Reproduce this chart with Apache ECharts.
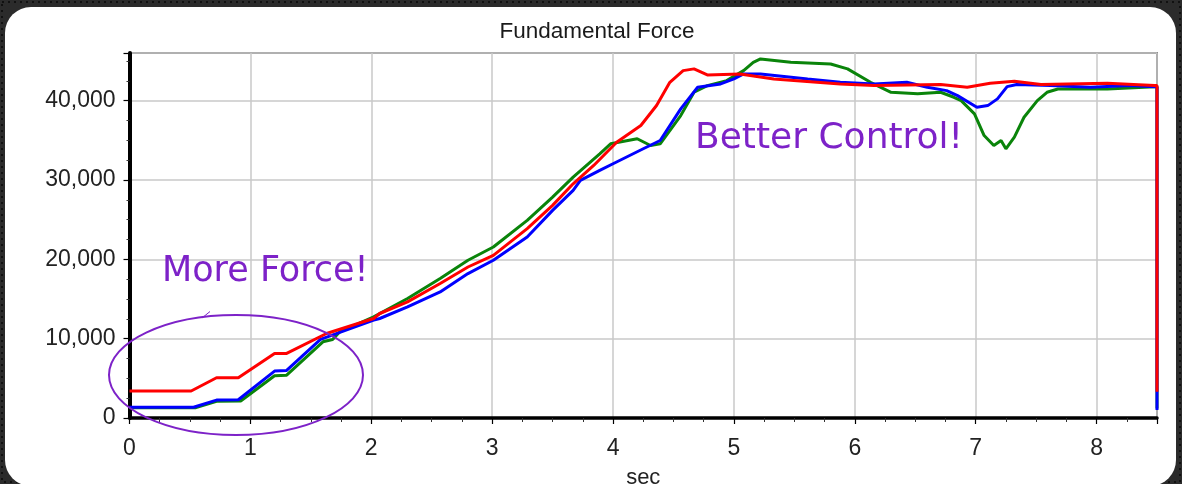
<!DOCTYPE html>
<html>
<head>
<meta charset="utf-8">
<script src="https://cdn.jsdelivr.net/npm/echarts@6/dist/echarts.min.js"></script>
<style>
  html, body { margin: 0; padding: 0; background: #2b2b2b; }
  #main { width: 1182px; height: 484px; }
</style>
</head>
<body>
<div id="main"></div>
<script>
var chartDom = document.getElementById('main');
var myChart = echarts.init(chartDom);
var option;

// time (sec) and force, one pair of arrays per run
var greenT = [0, 0.55, 0.72, 0.92, 1.20, 1.30, 1.60, 1.68, 1.74, 2.02, 2.30, 2.57, 2.80, 3.01, 3.29, 3.50, 3.67, 3.89, 3.98,
  4.20, 4.31, 4.39, 4.56, 4.67, 4.78, 4.94, 5.08, 5.16, 5.22, 5.47, 5.80, 5.94, 6.13, 6.30, 6.52, 6.71, 6.82, 6.88,
  6.99, 7.07, 7.15, 7.21, 7.25, 7.32, 7.40, 7.51, 7.59, 7.68, 8.09, 8.48, 8.50, 8.50];
var greenF = [1300, 1300, 2100, 2150, 5320, 5400, 9600, 9900, 10860, 12740, 15060, 17570, 19880, 21550, 24910, 27840, 30360, 33300, 34560,
  35190, 34340, 34550, 38120, 41050, 41890, 42520, 43780, 44820, 45250, 44820, 44610, 44000, 42310, 41050, 40850, 41050, 40420, 40000,
  38330, 35600, 34340, 34970, 33930, 35390, 37900, 40000, 41050, 41470, 41470, 41760, 41760, 1200];

var blueT = [0, 0.53, 0.72, 0.90, 1.20, 1.30, 1.58, 2.02, 2.07, 2.30, 2.57, 2.80, 3.01, 3.29, 3.50, 3.67, 3.73, 3.89, 4.00,
  4.25, 4.39, 4.56, 4.70, 4.89, 5.00, 5.08, 5.22, 5.61, 5.88, 6.16, 6.43, 6.60, 6.76, 6.85, 7.01, 7.10, 7.18, 7.26,
  7.34, 7.62, 7.95, 8.27, 8.48, 8.50, 8.50];
var blueF = [1350, 1350, 2260, 2300, 5910, 6000, 9900, 12330, 12540, 14000, 15890, 18200, 19880, 22810, 26170, 28680, 29940, 31200, 32040,
  33930, 34970, 38960, 41680, 42100, 42730, 43360, 43360, 42730, 42310, 42100, 42310, 41680, 41260, 40630, 39160, 39370, 40220, 41760,
  42020, 41890, 41680, 41890, 41760, 41760, 1000];

var redT = [0, 0.51, 0.72, 0.90, 1.20, 1.30, 1.63, 2.02, 2.07, 2.30, 2.57, 2.80, 3.01, 3.29, 3.50, 3.67, 3.84, 4.03, 4.23,
  4.36, 4.47, 4.58, 4.67, 4.78, 5.05, 5.33, 5.88, 6.16, 6.71, 6.93, 7.12, 7.32, 7.54, 8.09, 8.48, 8.50, 8.50];
var redF = [3400, 3400, 5070, 5070, 8140, 8140, 10650, 12540, 13170, 14630, 16950, 19030, 20500, 23860, 26800, 29520, 31830, 34760, 36860,
  39380, 42310, 43780, 44000, 43240, 43360, 42730, 42100, 41890, 42020, 41680, 42180, 42430, 42020, 42180, 41890, 41890, 3300];

var xTicks = [0, 1, 2, 3, 4, 5, 6, 7, 8];
var yTicks = [0, 10000, 20000, 30000, 40000];

function pairs(t, f) {
    return t.map(function (v, i) { return [v, f[i]]; });
}

function commas(v) {
    return String(v).replace(/\B(?=(\d{3})+(?!\d))/g, ',');
}

var labelFont = 'Liberation Sans';
var ink = '#7d22c8';

option = {
    animation: false,
    backgroundColor: '#2b2b2b',
    title: {
        text: 'Fundamental Force',
        left: 592,
        top: 15,
        textAlign: 'center',
        textStyle: { fontFamily: labelFont, fontSize: 22.5, fontWeight: 'normal', color: '#1a1a1a' }
    },
    grid: {
        left: 129.5, right: 25, top: 53, bottom: 66,
        outerBoundsMode: 'none',
        show: true, borderColor: '#3a3a3a', borderWidth: 1.5, backgroundColor: '#fff'
    },
    xAxis: {
        type: 'value', min: 0, max: 8.5, interval: 1,
        name: 'sec', nameLocation: 'middle', nameGap: 49,
        nameTextStyle: { fontFamily: labelFont, fontSize: 22, color: '#222' },
        axisLine: { onZero: false, lineStyle: { color: '#000', width: 3.5 } },
        axisTick: { length: 6, lineStyle: { color: '#000', width: 1.2 } },
        minorTick: { show: true, splitNumber: 4, length: 4, lineStyle: { color: '#333', width: 1 } },
        axisLabel: {
            margin: 19, fontFamily: labelFont, fontSize: 23, color: '#222',
            formatter: function (v) { return xTicks.indexOf(v) >= 0 ? String(v) : ''; }
        },
        splitLine: { lineStyle: { color: '#c8c8c8', width: 1.5 } }
    },
    yAxis: {
        type: 'value', min: 0, max: 46000, interval: 10000,
        axisLine: { show: true, onZero: false, lineStyle: { color: '#000', width: 4 } },
        axisTick: { show: true, length: 6, lineStyle: { color: '#000', width: 1.2 } },
        minorTick: { show: true, splitNumber: 4, length: 3, lineStyle: { color: '#333', width: 1 } },
        axisLabel: {
            margin: 14, fontFamily: labelFont, fontSize: 23, color: '#222',
            formatter: function (v) { return yTicks.indexOf(v) >= 0 ? commas(v) : ''; }
        },
        splitLine: { lineStyle: { color: '#c8c8c8', width: 1.5 } }
    },
    series: [
        { name: 'green', type: 'line', data: pairs(greenT, greenF), showSymbol: false,
          lineStyle: { color: '#0a840a', width: 3 }, itemStyle: { color: '#0a840a' } },
        { name: 'blue', type: 'line', data: pairs(blueT, blueF), showSymbol: false,
          lineStyle: { color: '#0000ff', width: 3 }, itemStyle: { color: '#0000ff' } },
        { name: 'red', type: 'line', data: pairs(redT, redF), showSymbol: false,
          lineStyle: { color: '#ff0000', width: 3 }, itemStyle: { color: '#ff0000' } }
    ],
    graphic: [
        // dotted frame and the white panel behind the chart
        { type: 'rect', z: -20, shape: { x: 2, y: 2, width: 1178, height: 480 },
          style: { fill: 'none', stroke: '#111', lineWidth: 2, lineDash: [2, 4] } },
        { type: 'rect', z: -10, shape: { x: 5, y: 7, width: 1171, height: 479, r: 26 },
          style: { fill: '#fff' } },
        // hand drawn notes
        { type: 'ellipse', z: 100, x: 236, y: 375, shape: { cx: 0, cy: 0, rx: 127, ry: 60 },
          style: { fill: 'none', stroke: ink, lineWidth: 2 } },
        { type: 'polyline', z: 100, shape: { points: [[202, 318], [210, 311.5]] },
          style: { stroke: ink, lineWidth: 1 } },
        { type: 'text', z: 100, x: 162, y: 272,
          style: { text: 'More Force!', fill: ink, font: '35px "DejaVu Sans"', verticalAlign: 'middle' } },
        { type: 'text', z: 100, x: 695, y: 139,
          style: { text: 'Better Control!', fill: ink, font: '36px "DejaVu Sans"', verticalAlign: 'middle' } }
    ]
};

option && myChart.setOption(option);
</script>
</body>
</html>
